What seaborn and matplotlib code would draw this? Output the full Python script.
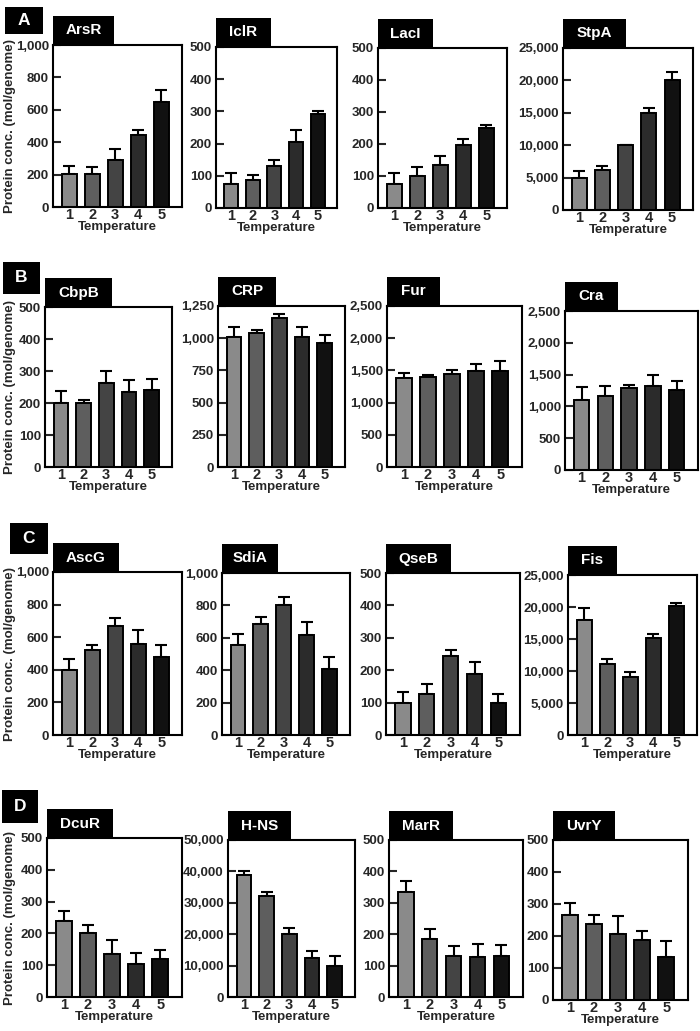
import matplotlib
matplotlib.use('Agg')
import matplotlib.pyplot as plt
import seaborn as sns
from matplotlib.patches import Rectangle
from matplotlib.ticker import FuncFormatter

sns.set_theme(style='white')
plt.rcParams['font.family'] = ['Liberation Sans', 'DejaVu Sans']
plt.rcParams['font.weight'] = 'bold'

W, H = 700, 1031

temps = ['1', '2', '3', '4', '5']
bar_colors = ['#8a8a8a', '#5e5e5e', '#444444', '#2b2b2b', '#111111']

# ---- data (mol/genome) ----
arsr = [203, 206, 292, 447, 650]
arsr_err = [48, 40, 65, 29, 71]
iclr = [75, 87, 131, 205, 292]
iclr_err = [33, 17, 19, 36, 8]
laci = [74, 101, 135, 197, 250]
laci_err = [34, 27, 26, 19, 8]
stpa = [4900, 6150, 10000, 15000, 20000]
stpa_err = [1100, 600, 0, 700, 1300]

cbpb = [200, 200, 262, 235, 242]
cbpb_err = [37, 10, 38, 38, 33]
crp = [1010, 1040, 1160, 1010, 960]
crp_err = [80, 20, 25, 75, 65]
fur = [1380, 1395, 1450, 1490, 1490]
fur_err = [80, 30, 60, 115, 150]
cra = [1105, 1160, 1290, 1325, 1265]
cra_err = [195, 155, 40, 175, 140]

ascg = [400, 520, 670, 560, 480]
ascg_err = [65, 35, 50, 85, 70]
sdia = [555, 685, 805, 620, 410]
sdia_err = [70, 45, 45, 80, 70]
qseb = [100, 128, 245, 187, 100]
qseb_err = [32, 29, 17, 38, 28]
fis = [17900, 11100, 9100, 15100, 20200]
fis_err = [2000, 800, 800, 700, 500]

dcur = [240, 200, 135, 105, 118]
dcur_err = [30, 27, 43, 33, 30]
hns = [38900, 32200, 20200, 12300, 10000]
hns_err = [1100, 1300, 1800, 2500, 3000]
marr = [335, 185, 130, 128, 132]
marr_err = [35, 30, 32, 40, 35]
uvry = [265, 239, 205, 189, 134]
uvry_err = [38, 27, 57, 28, 51]

# (name, values, errors, ymax, ystep, box(l,t,r,b) px, title width px)
panels = [
    ('ArsR', arsr, arsr_err, 1000, 200, (53, 45, 182, 207), 61),
    ('IclR', iclr, iclr_err, 500, 100, (216, 47, 337, 208), 55),
    ('LacI', laci, laci_err, 500, 100, (378, 48, 507, 208), 55),
    ('StpA', stpa, stpa_err, 25000, 5000, (563, 48, 693, 210), 63),
    ('CbpB', cbpb, cbpb_err, 500, 100, (45, 307, 172, 467), 67),
    ('CRP', crp, crp_err, 1250, 250, (218, 306, 345, 467), 58),
    ('Fur', fur, fur_err, 2500, 500, (387, 306, 522, 467), 53),
    ('Cra', cra, cra_err, 2500, 500, (565, 311, 698, 470), 53),
    ('AscG', ascg, ascg_err, 1000, 200, (53, 572, 182, 735), 66),
    ('SdiA', sdia, sdia_err, 1000, 200, (222, 573, 350, 735), 56),
    ('QseB', qseb, qseb_err, 500, 100, (386, 573, 520, 735), 65),
    ('Fis', fis, fis_err, 25000, 5000, (568, 575, 697, 735), 49),
    ('DcuR', dcur, dcur_err, 500, 100, (47, 838, 182, 997), 66),
    ('H-NS', hns, hns_err, 50000, 10000, (228, 840, 355, 997), 63),
    ('MarR', marr, marr_err, 500, 100, (389, 840, 523, 997), 64),
    ('UvrY', uvry, uvry_err, 500, 100, (553, 840, 688, 1000), 62),
]

fig = plt.figure(figsize=(W / 100, H / 100), dpi=100)
fmt = FuncFormatter(lambda v, p: f'{int(v):,}')

for name, vals, errs, ymax, ystep, (l, t, r, b), tw in panels:
    ax = fig.add_axes([l / W, 1 - b / H, (r - l) / W, (b - t) / H])
    sns.barplot(x=temps, y=vals, hue=temps, palette=bar_colors, dodge=False,
                edgecolor='black', linewidth=1.4, width=0.65, legend=False,
                ax=ax, zorder=2)
    xs = list(range(len(temps)))
    ax.errorbar(xs, vals, yerr=[[0] * len(errs), errs], fmt='none',
                ecolor='black', elinewidth=1.5, capsize=4, capthick=1.5,
                zorder=1)
    ax.set_xlim(-0.7, 4.9)
    ax.set_ylim(0, ymax)
    ax.set_yticks(list(range(0, ymax + 1, ystep)))
    ax.yaxis.set_major_formatter(fmt)
    ax.tick_params(axis='y', direction='in', length=6, width=1.5,
                   labelsize=9.5, pad=3, left=True)
    ax.tick_params(axis='x', length=0, labelsize=10.5, pad=1)
    for lab in ax.get_xticklabels() + ax.get_yticklabels():
        lab.set_fontweight('bold')
    ax.set_xlabel('Temperature', fontsize=9.5, fontweight='bold', labelpad=-1)
    ax.set_ylabel('')
    for s in ax.spines.values():
        s.set_linewidth(1.5)
        s.set_color('black')
    # title tag
    th = 29
    fig.add_artist(Rectangle((l / W, 1 - t / H), tw / W, th / H,
                             transform=fig.transFigure, facecolor='black',
                             edgecolor='none'))
    fig.text((l + tw / 2) / W, 1 - (t - th / 2) / H, name, color='white',
             fontsize=11, fontweight='bold', ha='center', va='center')

# panel letters
letters = [('A', 5, 7, 38, 27), ('B', 3, 262, 37, 32),
           ('C', 10, 523, 38, 31), ('D', 2, 790, 36, 33)]
for let, x0, y0, w, h in letters:
    fig.add_artist(Rectangle((x0 / W, 1 - (y0 + h) / H), w / W, h / H,
                             transform=fig.transFigure, facecolor='black',
                             edgecolor='none'))
    fig.text((x0 + w / 2) / W, 1 - (y0 + h / 2) / H, let, color='white',
             fontsize=12.5, fontweight='bold', ha='center', va='center')

# y labels
for yc in [126, 387, 654, 918]:
    fig.text(10 / W, 1 - yc / H, 'Protein conc. (mol/genome)', rotation=90,
             fontsize=9.5, fontweight='bold', ha='center', va='center')

fig.savefig('out.png', dpi=100, facecolor='white')
